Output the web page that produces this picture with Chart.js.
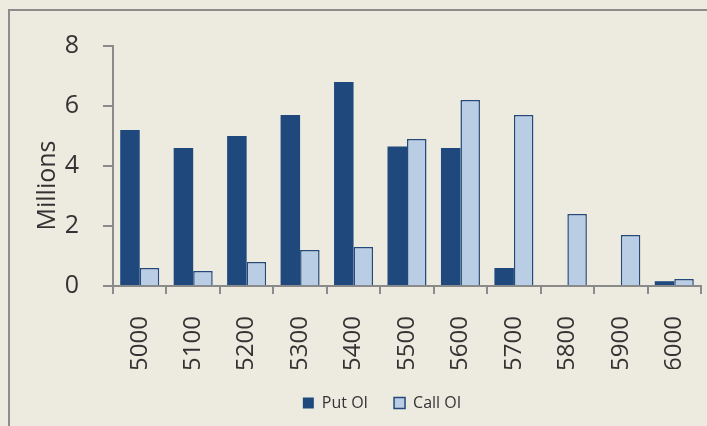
<!DOCTYPE html>
<html lang="en">
  <head>
    <meta charset="UTF-8" />
    <title>Put / Call OI</title>
    <script src="https://cdn.jsdelivr.net/npm/chart.js"></script>
    <style>
      html, body { margin: 0; padding: 0; background: #edebe0; overflow: hidden; width: 707px; height: 426px; }
      #frame { position: absolute; left: 8px; top: 9px; width: 744px; height: 440px; border: 2px solid #8c8c8c; }
    </style>
  </head>
  <body>
    <div id="frame"><canvas id="oiChart" width="744" height="440"></canvas></div>

    <script>
      // strike prices and open interest (millions)
      const strikes = ["5000", "5100", "5200", "5300", "5400", "5500", "5600", "5700", "5800", "5900", "6000"];
      const putOI = [5.2, 4.6, 5.0, 5.7, 6.8, 4.65, 4.6, 0.6, null, null, 0.16];
      const callOI = [0.6, 0.5, 0.8, 1.2, 1.3, 4.9, 6.2, 5.7, 2.4, 1.7, 0.23];
      const yTicks = [0, 2, 4, 6, 8];

      const axisGrey = "#8a8a8a";
      const textColor = "#333333";
      const fontFamily = "'Open Sans', 'Noto Sans', sans-serif";

      const ctx = document.getElementById("oiChart").getContext("2d");
      new Chart(ctx, {
        type: "bar",
        data: {
          labels: strikes,
          datasets: [
            {
              label: "Put OI",
              data: putOI,
              backgroundColor: "#1f497d",
              borderWidth: 0,
            },
            {
              label: "Call OI",
              data: callOI,
              backgroundColor: "#b9cde5",
              borderColor: "#24497a",
              borderWidth: 1.5,
            },
          ],
        },
        options: {
          responsive: false,
          devicePixelRatio: 1,
          animation: false,
          categoryPercentage: 0.73,
          barPercentage: 1,
          layout: {
            padding: { top: 35, right: 0, left: 0, bottom: 30 },
          },
          plugins: {
            tooltip: { enabled: false },
            legend: {
              position: "bottom",
              labels: {
                color: textColor,
                font: { family: fontFamily, size: 16 },
                boxWidth: 11,
                boxHeight: 11,
                padding: 26,
              },
            },
          },
          scales: {
            x: {
              grid: {
                drawOnChartArea: false,
                color: axisGrey,
                lineWidth: 2,
                tickLength: 8,
              },
              border: { color: axisGrey, width: 2 },
              ticks: {
                color: textColor,
                font: { family: fontFamily, size: 24 },
                minRotation: 90,
                maxRotation: 90,
                padding: 22,
              },
              afterFit: (scale) => {
                scale.height = 83;
              },
            },
            y: {
              min: 0,
              max: 8,
              afterBuildTicks: (scale) => {
                scale.ticks = yTicks.map((v) => ({ value: v }));
              },
              grid: {
                drawOnChartArea: false,
                color: axisGrey,
                lineWidth: 2,
                tickLength: 10,
              },
              border: { color: axisGrey, width: 2 },
              ticks: {
                color: textColor,
                font: { family: fontFamily, size: 25 },
                padding: 24,
              },
              title: {
                display: true,
                text: "Millions      ",
                color: textColor,
                font: { family: fontFamily, size: 25 },
                padding: { top: 23, bottom: 0 },
              },
              afterFit: (scale) => {
                scale.width = 103;
                // label padding should not push the plot area down
                scale.paddingTop = 15;
                scale.paddingBottom = 15;
              },
            },
            // empty space on the right so the legend stays centred on the whole frame
            yRight: {
              type: "linear",
              position: "right",
              grid: { display: false },
              border: { display: false },
              ticks: { display: false },
              afterFit: (scale) => {
                scale.width = 53;
              },
            },
          },
        },
      });
    </script>
  </body>
</html>
